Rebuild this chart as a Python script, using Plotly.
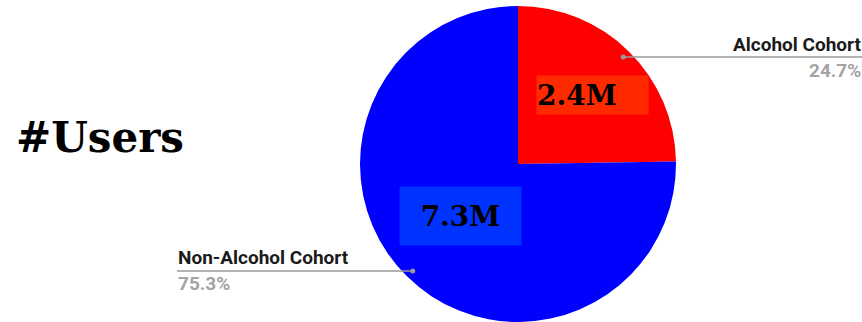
import math
import plotly.graph_objects as go

# ---- data ----
labels = ["Alcohol Cohort", "Non-Alcohol Cohort"]
users_m = [2.4, 7.3]          # users, millions
value_text = ["2.4M", "7.3M"]
colors = ["#FF0000", "#0000FF"]
title_text = "#Users"

W, H = 862, 322

# pie geometry (pixels)
cx, cy, r = 518, 164, 158
dom_x = [(cx - r) / W, (cx + r) / W]
dom_y = [1 - (cy + r) / H, 1 - (cy - r) / H]
dom_y = [max(0, dom_y[0]), min(1, dom_y[1])]

fig = go.Figure(go.Pie(
    labels=labels, values=users_m, sort=False, direction="clockwise", rotation=0,
    marker=dict(colors=colors, line=dict(width=0)),
    textinfo="none", hoverinfo="label+percent+value",
    domain=dict(x=dom_x, y=dom_y),
))

def px(x):
    return x / W

def py(y):
    return 1 - y / H

total = sum(users_m)
pcts = [v / total * 100 for v in users_m]

annotations = []
shapes = []

# leader dots at slice mid-angles
cum = 0
mids = []
for v in users_m:
    mid = (cum + v / 2) / total * 2 * math.pi
    mids.append(mid)
    cum += v
dot_r = 0.95 * r
dots = [(cx + dot_r * math.sin(a), cy - dot_r * math.cos(a)) for a in mids]

line_col = "#9a9a9a"
lab_font = dict(family="Roboto", size=19, color="#1a1a1a")
pct_font = dict(family="Roboto", size=19, color="#a3a3a3")

# Alcohol (right side)
d0 = dots[0]
shapes.append(dict(type="line", xref="paper", yref="paper",
                   x0=px(d0[0]), x1=1.0, y0=py(d0[1]), y1=py(d0[1]),
                   line=dict(color=line_col, width=1.5)))
annotations.append(dict(x=1.0, y=py(d0[1] - 13), xanchor="right", yanchor="middle",
                        borderpad=0, text="<b>%s</b>" % labels[0], showarrow=False, font=lab_font))
annotations.append(dict(x=1.0, y=py(d0[1] + 13.5), xanchor="right", yanchor="middle",
                        borderpad=0, text="<b>%.1f%%</b>" % pcts[0], showarrow=False, font=pct_font))

# Non-alcohol (left side)
d1 = dots[1]
lx = 177
shapes.append(dict(type="line", xref="paper", yref="paper",
                   x0=px(lx), x1=px(d1[0]), y0=py(d1[1]), y1=py(d1[1]),
                   line=dict(color=line_col, width=1.5)))
annotations.append(dict(x=px(lx), y=py(d1[1] - 13.5), xanchor="left", yanchor="middle",
                        borderpad=0, text="<b>%s</b>" % labels[1], showarrow=False, font=lab_font))
annotations.append(dict(x=px(lx), y=py(d1[1] + 12.5), xanchor="left", yanchor="middle",
                        borderpad=0, text="<b>%.1f%%</b>" % pcts[1], showarrow=False, font=pct_font))

for (dx, dy) in dots:
    shapes.append(dict(type="circle", xref="paper", yref="paper",
                       x0=px(dx - 2.5), x1=px(dx + 2.5), y0=py(dy + 2.5), y1=py(dy - 2.5),
                       fillcolor=line_col, line=dict(width=0)))

# value boxes
num_font = dict(family="DejaVu Serif", size=28, color="#000000")
annotations.append(dict(x=px(536), y=py(75), xanchor="left", yanchor="top",
                        width=111, height=38, align="left", valign="middle",
                        borderpad=0, bgcolor="#FF2A00",
                        text="<b>%s</b>" % value_text[0], showarrow=False, font=num_font))
annotations.append(dict(x=px(399), y=py(186), xanchor="left", yanchor="top",
                        width=121, height=58, align="center", valign="middle",
                        borderpad=0, bgcolor="#0033FF",
                        text="<b>%s</b>" % value_text[1], showarrow=False, font=num_font))

# title
annotations.append(dict(x=px(14), y=py(137), xanchor="left", yanchor="middle",
                        text="<b>%s</b>" % title_text, showarrow=False,
                        font=dict(family="DejaVu Serif", size=42, color="#000000")))

fig.update_layout(width=W, height=H, margin=dict(l=0, r=0, t=0, b=0),
                  paper_bgcolor="white", plot_bgcolor="white", showlegend=False,
                  annotations=annotations, shapes=shapes)
fig.write_html("out.html")
